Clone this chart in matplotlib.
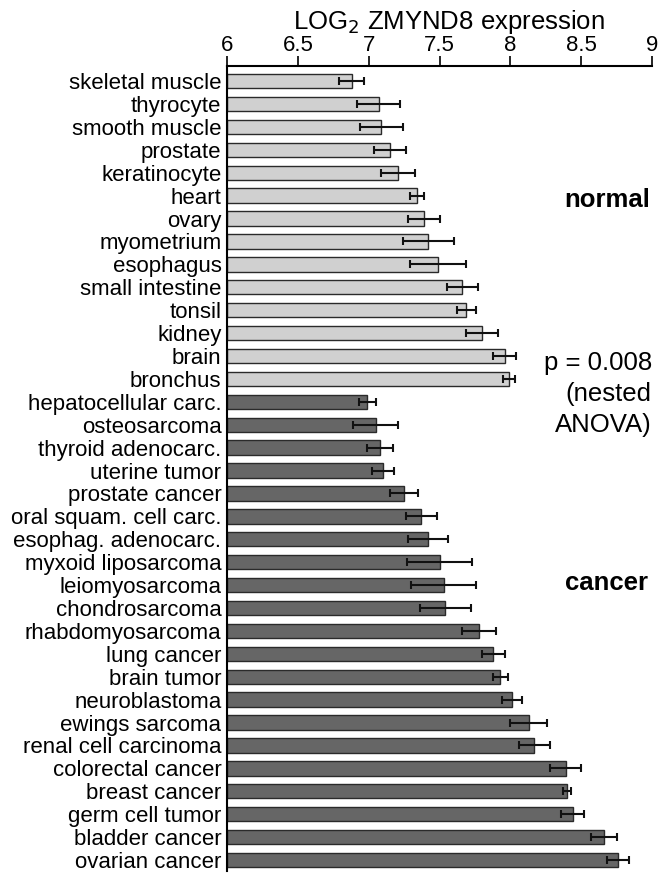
import matplotlib.pyplot as plt
import numpy as np

plt.rcParams['font.family'] = ['Liberation Sans', 'DejaVu Sans']

# Mean LOG2 expression and error (half-width) per tissue
normal_tissues = ['skeletal muscle', 'thyrocyte', 'smooth muscle', 'prostate',
                  'keratinocyte', 'heart', 'ovary', 'myometrium', 'esophagus',
                  'small intestine', 'tonsil', 'kidney', 'brain', 'bronchus']
normal_mean = [6.88, 7.07, 7.09, 7.15, 7.21, 7.34, 7.39, 7.42, 7.49,
               7.66, 7.69, 7.80, 7.96, 7.99]
normal_err = [0.09, 0.15, 0.15, 0.11, 0.12, 0.05, 0.11, 0.18, 0.20,
              0.11, 0.07, 0.11, 0.08, 0.04]

cancer_tissues = ['hepatocellular carc.', 'osteosarcoma', 'thyroid adenocarc.',
                  'uterine tumor', 'prostate cancer', 'oral squam. cell carc.',
                  'esophag. adenocarc.', 'myxoid liposarcoma', 'leiomyosarcoma',
                  'chondrosarcoma', 'rhabdomyosarcoma', 'lung cancer', 'brain tumor',
                  'neuroblastoma', 'ewings sarcoma', 'renal cell carcinoma',
                  'colorectal cancer', 'breast cancer', 'germ cell tumor',
                  'bladder cancer', 'ovarian cancer']
cancer_mean = [6.99, 7.05, 7.08, 7.10, 7.25, 7.37, 7.42, 7.50, 7.53,
               7.54, 7.78, 7.88, 7.93, 8.01, 8.13, 8.17, 8.39, 8.40,
               8.44, 8.66, 8.76]
cancer_err = [0.06, 0.16, 0.09, 0.08, 0.10, 0.11, 0.14, 0.23, 0.23,
              0.18, 0.12, 0.08, 0.05, 0.07, 0.13, 0.11, 0.11, 0.03,
              0.08, 0.09, 0.08]

x_ticks = [6, 6.5, 7, 7.5, 8, 8.5, 9]
x_tick_labels = ['6', '6.5', '7', '7.5', '8', '8.5', '9']

labels = normal_tissues + cancer_tissues
means = np.array(normal_mean + cancer_mean)
errs = np.array(normal_err + cancer_err)
colors = ['#d0d0d0'] * len(normal_tissues) + ['#666666'] * len(cancer_tissues)
pos = np.arange(len(labels))

fig = plt.figure(figsize=(6.59, 8.73), dpi=100)
ax = fig.add_axes([0.3445, 0.0023, 0.645, 0.922])

# bars start at 6 so the axis origin is the bar base
ax.barh(pos, means - 6, left=6, height=0.63, color=colors,
        edgecolor='#2a2a2a', linewidth=1.0)
ax.errorbar(means, pos, xerr=errs, fmt='none', ecolor='#111111',
            elinewidth=1.5, capsize=3, capthick=1.5)

ax.set_xlim(6, 9)
ax.set_ylim(len(labels) - 1 + 0.48, -0.655)
ax.set_yticks(pos)
ax.set_yticklabels(labels, fontsize=16)
ax.tick_params(axis='y', length=0, pad=4)

ax.xaxis.tick_top()
ax.set_xticks(x_ticks)
ax.set_xticklabels(x_tick_labels, fontsize=16)
ax.tick_params(axis='x', direction='out', length=7, width=1.2, pad=0)

ax.spines['right'].set_visible(False)
ax.spines['bottom'].set_visible(False)
ax.spines['top'].set_linewidth(1.5)
ax.spines['left'].set_linewidth(1.5)

fig.text(0.681, 0.9745, r'LOG$_2$ ZMYND8 expression', ha='center', va='center',
         fontsize=18.5)

fig.text(0.986, 1 - 200 / 873, 'normal', ha='right', va='center',
         fontsize=18.5, fontweight='bold')
fig.text(0.989, 1 - 394 / 873, 'p = 0.008\n(nested\nANOVA)', ha='right',
         va='center', multialignment='right', fontsize=18.5, linespacing=1.35)
fig.text(0.984, 1 - 583 / 873, 'cancer', ha='right', va='center',
         fontsize=18.5, fontweight='bold')

fig.savefig('out.png', dpi=100)
